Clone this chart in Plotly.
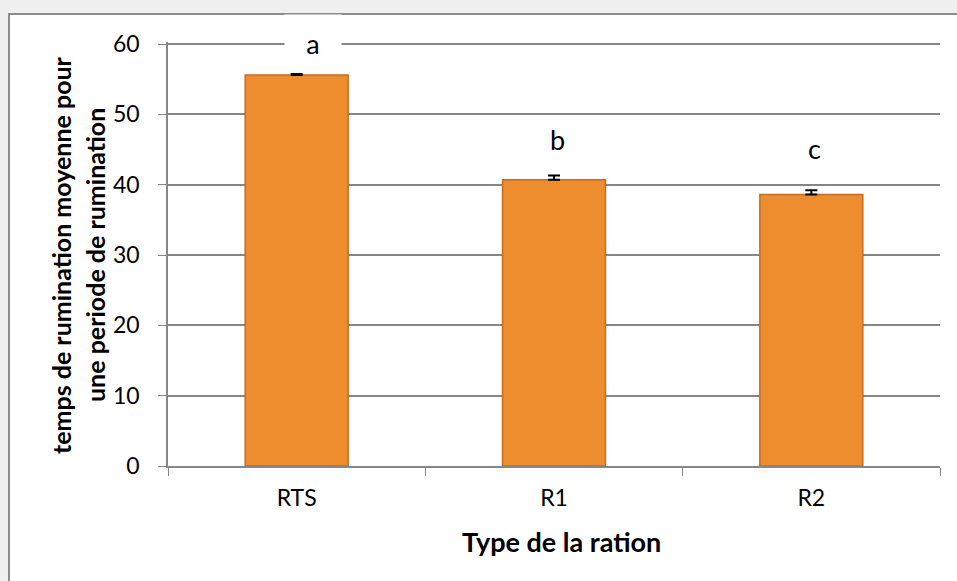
import plotly.graph_objects as go

categories = ["RTS", "R1", "R2"]
values = [55.6, 40.7, 38.6]
errors = [0.15, 0.6, 0.6]
letters = ["a", "b", "c"]
letter_y = [60.3, 46.4, 45.1]
x_title = "Type de la ration"
y_title_lines = ["temps de rumination moyenne pour", "une periode de rumination"]

W, H = 957, 581
L, R, T, B = 168, 17, 42, 115
pw, ph = W - L - R, H - T - B


def px_to_paper_x(px):
    return (px - L) / pw


def px_to_paper_y(py):
    return (H - B - py) / ph


fig = go.Figure()
fig.add_trace(go.Bar(
    x=categories, y=values,
    width=0.4,
    marker=dict(color="#ee8d2e", line=dict(color="#c96a1e", width=1.5)),
    error_y=dict(type="data", array=errors, arrayminus=[0] * len(errors), symmetric=False,
                 visible=True, color="black", thickness=2, width=6),
    showlegend=False,
    hoverinfo="skip",
))

font_family = "Lato, 'Open Sans', sans-serif"

annotations = []
shifts = [16, 3, 3]
for c, t, yv, s in zip(categories, letters, letter_y, shifts):
    if t == "a":
        annotations.append(dict(
            x=c, xref="x", y=px_to_paper_y(14), yref="paper",
            xanchor="center", yanchor="top",
            text=t, showarrow=False, xshift=s,
            width=56, height=56, valign="middle", borderpad=0,
            font=dict(size=27, color="black", family=font_family),
            bgcolor="white",
        ))
    else:
        annotations.append(dict(
            x=c, y=yv, xref="x", yref="y", xanchor="center", yanchor="middle",
            text=t, showarrow=False, xshift=s,
            font=dict(size=27, color="black", family=font_family),
        ))

# axis titles
annotations.append(dict(
    x=px_to_paper_x(561), y=px_to_paper_y(541), xref="paper", yref="paper",
    xanchor="center", yanchor="middle",
    text="<b>" + x_title + "</b>", showarrow=False,
    font=dict(size=27, color="black", family=font_family),
))
for i, line in enumerate(y_title_lines):
    annotations.append(dict(
        x=px_to_paper_x(61 + 34 * i), y=px_to_paper_y(255), xref="paper", yref="paper",
        xanchor="center", yanchor="middle",
        text="<b>" + line + "</b>", showarrow=False, textangle=-90,
        font=dict(size=25, color="black", family=font_family),
    ))

fig.update_layout(
    width=W, height=H,
    margin=dict(l=L, r=R, t=T, b=B, autoexpand=False),
    paper_bgcolor="#f0f0f0",
    plot_bgcolor="white",
    font=dict(family=font_family, color="black"),
    shapes=[dict(
        type="rect", xref="paper", yref="paper", layer="below",
        x0=px_to_paper_x(9), x1=px_to_paper_x(W + 20),
        y0=px_to_paper_y(H + 20), y1=px_to_paper_y(14),
        fillcolor="white", line=dict(color="#8c8c8c", width=2),
    )],
    annotations=annotations,
)

fig.update_xaxes(
    showline=True, linecolor="#868686", linewidth=1.5,
    ticks="outside", tickson="boundaries", ticklen=8, tickcolor="#868686",
    tickfont=dict(size=23), ticklabelstandoff=11,
)
fig.update_yaxes(
    range=[0, 60.3], tickvals=[0, 10, 20, 30, 40, 50, 60],
    showline=True, linecolor="#868686", linewidth=1.5,
    showgrid=True, gridcolor="#868686", gridwidth=1.5,
    ticks="outside", ticklen=8, tickcolor="#868686",
    tickfont=dict(size=23), ticklabelstandoff=14,
    zeroline=False,
)

fig.write_html(
    "out.html",
    config={"displayModeBar": False},
    post_script="document.body.style.margin='0';document.body.style.overflow='hidden';",
)
